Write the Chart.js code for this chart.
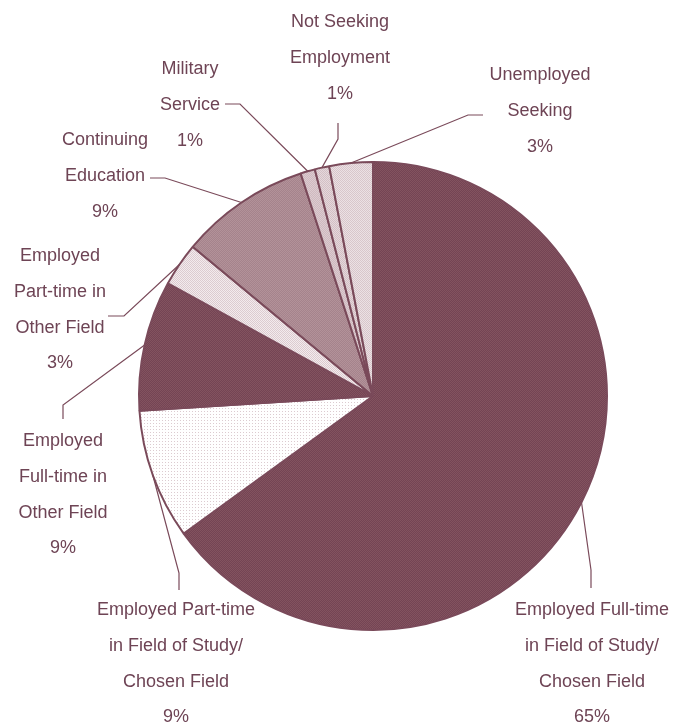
<!DOCTYPE html>
<html lang="en">
<head>
    <meta charset="UTF-8">
    <title>Graduate Outcomes</title>
    <style>
        * { margin: 0; padding: 0; box-sizing: border-box; }
        body { background: #fff; width: 689px; height: 727px; overflow: hidden; }
        #chart-container { position: relative; width: 689px; height: 727px; }
    </style>
</head>
<body>
    <div id="chart-container">
        <canvas id="outcomeChart"></canvas>
    </div>

    <script src="https://cdn.jsdelivr.net/npm/chart.js"></script>
    <script>
        // slice names (one entry per text line), clockwise from 12 o'clock
        const categories = [
            ["Employed Full-time", "in Field of Study/", "Chosen Field"],
            ["Employed Part-time", "in Field of Study/", "Chosen Field"],
            ["Employed", "Full-time in", "Other Field"],
            ["Employed", "Part-time in", "Other Field"],
            ["Continuing", "Education"],
            ["Military", "Service"],
            ["Not Seeking", "Employment"],
            ["Unemployed", "Seeking"]
        ];
        const percentages = [65, 9, 9, 3, 9, 1, 1, 3];

        // label placement: text centre x, first line y, leader elbow and leader end
        const labelLayout = [
            { x: 592, y: 610, elbow: [591, 570], end: [591, 588] },
            { x: 176, y: 610, elbow: [179, 573], end: [179, 590] },
            { x: 63,  y: 441, elbow: [63, 405],  end: [63, 419] },
            { x: 60,  y: 256, elbow: [124, 316], end: [108, 316] },
            { x: 105, y: 140, elbow: [165, 178], end: [150, 178] },
            { x: 190, y: 69,  elbow: [240, 104], end: [225, 104] },
            { x: 340, y: 22,  elbow: [338, 139], end: [338, 123] },
            { x: 540, y: 75,  elbow: [468, 115], end: [483, 115] }
        ];

        const textColor = '#6e4455';
        const lineColor = '#7a4a5a';

        // small dotted tiles like the printed texture
        function makePattern(bg, dot, size) {
            const c = document.createElement('canvas');
            c.width = size;
            c.height = size;
            const g = c.getContext('2d');
            g.fillStyle = bg;
            g.fillRect(0, 0, size, size);
            g.fillStyle = dot;
            g.fillRect(0, 0, 1, 1);
            if (size === 2) g.fillRect(1, 1, 1, 1);
            return g.createPattern(c, 'repeat');
        }

        const fills = [
            makePattern('#744454', '#83535f', 2),
            makePattern('#ffffff', '#dccbd0', 3),
            makePattern('#744454', '#83535f', 2),
            makePattern('#f3ebed', '#dccbd0', 2),
            makePattern('#a5838c', '#b39299', 2),
            makePattern('#cfb9bf', '#dccbd0', 2),
            makePattern('#e5d7db', '#d3c0c5', 2),
            makePattern('#ebe1e4', '#d8c6cb', 2)
        ];

        const labelPlugin = {
            id: 'leaderLabels',
            afterDraw(chart) {
                const ctx = chart.ctx;
                const arcs = chart.getDatasetMeta(0).data;
                ctx.save();
                ctx.font = '18px "Liberation Sans", Arial, sans-serif';
                ctx.textAlign = 'center';
                ctx.textBaseline = 'middle';
                arcs.forEach((arc, i) => {
                    const p = arc.getProps(['x', 'y', 'startAngle', 'endAngle', 'outerRadius'], true);
                    const mid = (p.startAngle + p.endAngle) / 2;
                    const sx = p.x + Math.cos(mid) * p.outerRadius;
                    const sy = p.y + Math.sin(mid) * p.outerRadius;
                    const lay = labelLayout[i];

                    ctx.strokeStyle = lineColor;
                    ctx.lineWidth = 1.2;
                    ctx.beginPath();
                    ctx.moveTo(sx, sy);
                    ctx.lineTo(lay.elbow[0], lay.elbow[1]);
                    ctx.lineTo(lay.end[0], lay.end[1]);
                    ctx.stroke();

                    const lines = categories[i].concat([percentages[i] + '%']);
                    ctx.fillStyle = textColor;
                    lines.forEach((t, k) => {
                        ctx.fillText(t, lay.x, lay.y + k * 35.8);
                    });
                });
                ctx.restore();
            }
        };

        const ctx = document.getElementById('outcomeChart').getContext('2d');
        new Chart(ctx, {
            type: 'pie',
            data: {
                labels: categories.map(c => c.join(' ')),
                datasets: [{
                    data: percentages,
                    backgroundColor: fills,
                    borderColor: lineColor,
                    borderWidth: 2
                }]
            },
            options: {
                responsive: true,
                maintainAspectRatio: false,
                animation: false,
                layout: { padding: { left: 138, right: 81, top: 161, bottom: 96 } },
                plugins: {
                    legend: { display: false },
                    tooltip: { enabled: false }
                }
            },
            plugins: [labelPlugin]
        });
    </script>
</body>
</html>
